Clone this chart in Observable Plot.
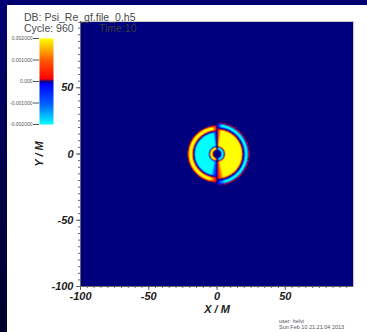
<!DOCTYPE html>
<html><head><meta charset="utf-8">
<script src="https://cdn.jsdelivr.net/npm/d3@7"></script>
<script src="https://cdn.jsdelivr.net/npm/@observablehq/plot@0.6"></script>
<style>
html,body{margin:0;padding:0;}
body{width:367px;height:332px;background:#000070;position:relative;overflow:hidden;font-family:"Liberation Sans",Arial,sans-serif;}
#strip{position:absolute;left:0;top:0;width:7px;height:332px;background:linear-gradient(#000075,#00002a);}
#panel{position:absolute;left:7px;top:5px;width:360px;height:327px;background:#fff;}
#chart,#legend{position:absolute;left:0;top:0;}
.t{position:absolute;color:#4a4a4a;white-space:pre;line-height:1;}
</style></head><body>
<div id="strip"></div><div id="panel"></div>
<div id="chart"></div><div id="legend"></div>
<div class="t" id="t1" style="left:24px;top:12px;font-size:10.5px;"></div>
<div class="t" id="t2" style="left:24px;top:23px;font-size:10.5px;"></div>
<div class="t" id="t2b" style="left:99px;top:23px;font-size:10.5px;color:#3a3a3a;"></div>
<div class="t" id="t3" style="left:279px;top:319px;font-size:5.5px;color:#555;"></div>
<div class="t" id="t4" style="left:279px;top:325px;font-size:5.5px;color:#555;"></div>
<script>
// ---- data ----
const titleLines = ["DB: Psi_Re_gf.file_0.h5", "Cycle: 960", "Time:10"];
const footerLines = ["user: helvi", "Sun Feb 10 21:21:04 2013"];
const xTicks = [-100, -50, 0, 50];
const yTicks = [-100, -50, 0, 50];
const xLabel = "X / M";
const yLabel = "Y / M";
const legendTicks = [0.002, 0.001, 0, -0.001, -0.002];
const legendLabels = ["0.002000", "0.001000", "0.000", "-0.001000", "-0.002000"];
// colour table (value -> colour)
const colorStops = [-0.002, -0.0011, -0.00012, 0, 0.00012, 0.001, 0.0016, 0.002];
const colorValues = ["#00ffff", "#0066ff", "#0000ff", "#00007e", "#ff0000", "#ff5a00", "#ffc000", "#ffff00"];
// radial profile of the field, left half (x<0) and right half (x>0)
const leftRadii  = [0, 2.7, 3.1, 3.7, 4.7, 5.2, 5.5, 6.3, 16.0, 16.5, 16.9, 17.3, 17.8, 18.4, 20.2, 20.9, 21.5];
const leftValues = [0, 0, 0.0004, 0.002, 0.002, 0.0004, -0.0004, -0.002, -0.002, -0.0006, 0, 0, 0.0006, 0.002, 0.002, 0.0006, 0];
const rightRadii  = [0, 2.7, 3.1, 3.7, 4.7, 5.2, 5.5, 6.3, 18.0, 18.6, 19.1, 19.6, 20.1, 20.7, 22.2, 22.8, 23.2, 23.8];
const rightValues = [0, 0, -0.0004, -0.002, -0.002, -0.0004, 0.0004, 0.002, 0.002, 0.0006, 0, 0, -0.0006, -0.002, -0.002, -0.0006, 0.0003, 0];
// fade toward the vertical centre line: [base width, growth with radius, extra factor below y=0]
const fadeParams = [0.4, 0.15, 1.6];
const center = [0, 0];
const minorTicks = d3.range(-100, 100, 5);

function profile(rs, vs, r) {
  if (r >= rs[rs.length - 1]) return vs[vs.length - 1];
  for (let i = 1; i < rs.length; i++) {
    if (r <= rs[i]) {
      const t = (r - rs[i - 1]) / (rs[i] - rs[i - 1]);
      return vs[i - 1] + t * (vs[i] - vs[i - 1]);
    }
  }
  return 0;
}
function field(x, y) {
  const dx = x - center[0], dy = y - center[1];
  const r = Math.hypot(dx, dy);
  const base = dx < 0 ? profile(leftRadii, leftValues, r) : profile(rightRadii, rightValues, r);
  const w = (fadeParams[0] + fadeParams[1] * r) * (dy < 0 ? fadeParams[2] : 1);
  return base * Math.min(1, Math.abs(dx) / w);
}

const colorScale = {type: "linear", domain: colorStops, range: colorValues, clamp: true};
const fmt = d => String(d);

const chart = Plot.plot({
  width: 367, height: 332,
  marginLeft: 80, marginRight: 14, marginTop: 21, marginBottom: 46,
  style: {background: "transparent", fontFamily: "'Liberation Sans', Arial, sans-serif", fontSize: "11px", fontWeight: "bold", fontStyle: "italic", color: "#222"},
  x: {domain: [-100, 100]},
  y: {domain: [-100, 100]},
  color: colorScale,
  marks: [
    Plot.raster({x1: -100, x2: 100, y1: -100, y2: 100, fill: field, interpolate: "none"}),
    Plot.frame({stroke: "#c8c8c8"}),
    Plot.ruleX([-100], {stroke: "#666"}),
    Plot.ruleY([-100], {stroke: "#666"}),
    Plot.axisX(minorTicks, {tickSize: 2, text: null, label: null, stroke: "#666"}),
    Plot.axisY(minorTicks, {tickSize: 2, text: null, label: null, stroke: "#666"}),
    Plot.axisX(xTicks, {tickSize: 4, tickPadding: 2, stroke: "#666", tickFormat: fmt, label: xLabel, labelAnchor: "center", labelArrow: "none", labelOffset: 26}),
    Plot.axisY(yTicks, {tickSize: 4, tickPadding: 3, stroke: "#666", tickFormat: fmt, label: yLabel, labelAnchor: "center", labelArrow: "none", labelOffset: 45})
  ]
});
document.getElementById("chart").append(chart);

const legend = Plot.plot({
  width: 60, height: 130,
  marginLeft: 39, marginRight: 7, marginTop: 38, marginBottom: 6,
  style: {background: "transparent", fontFamily: "'Liberation Sans', Arial, sans-serif", fontSize: "5px", color: "#555"},
  x: {domain: [0, 1], axis: null},
  y: {domain: [-0.002, 0.002], axis: null},
  color: colorScale,
  marks: [
    Plot.raster({x1: 0, x2: 1, y1: -0.002, y2: 0.002, fill: (x, y) => y}),
    Plot.axisY(legendTicks, {tickSize: 6, tickPadding: 1, label: null, tickFormat: d => legendLabels[legendTicks.indexOf(d)]})
  ]
});
document.getElementById("legend").append(legend);

document.getElementById("t1").textContent = titleLines[0];
document.getElementById("t2").textContent = titleLines[1];
document.getElementById("t2b").textContent = titleLines[2];
document.getElementById("t3").textContent = footerLines[0];
document.getElementById("t4").textContent = footerLines[1];
</script>
</body></html>
